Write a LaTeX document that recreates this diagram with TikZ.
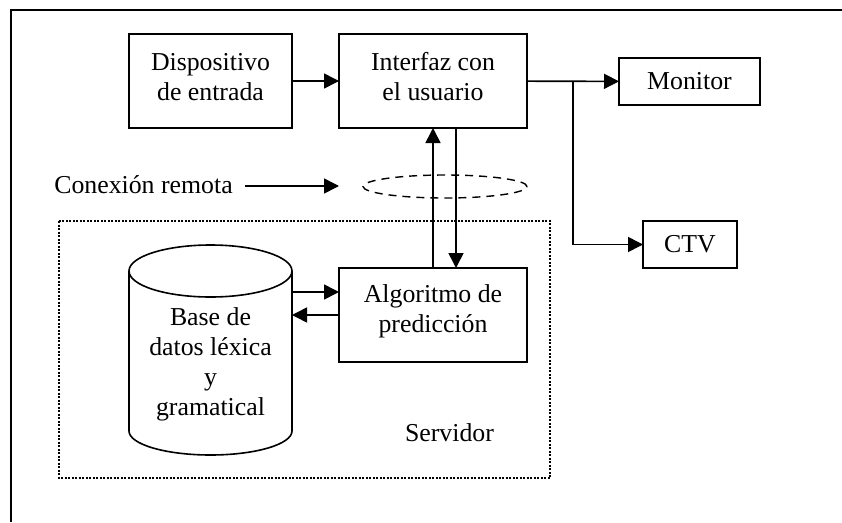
\documentclass[tikz,border=0pt]{standalone}
\usepackage{fontspec}
\setmainfont{Liberation Serif}
\usetikzlibrary{arrows.meta,shapes.geometric}
\tikzset{
  x=1pt,y=-1pt,
  lbl/.style={font=\fontsize{25.8}{30}\selectfont,align=center,inner sep=0pt,outer sep=0pt},
  blk/.style={lbl,draw,minimum width=#1,outer sep=0pt},
  upper/.style={label={[lbl,yshift=4pt]center:#1}},
  arr/.style={-{Triangle[length=15pt,width=15pt]}},
  frame/.style={line width=1.8pt},
  srv/.style={line width=2pt,dash pattern=on 2pt off 1.5pt},
  link/.style={line width=1.4pt,dash pattern=on 8pt off 6pt}
}
\begin{document}
\begin{tikzpicture}[line width=1.6pt]
\useasboundingbox (0,0) rectangle (842,522);
\draw[frame] (842,10) -- (11,10) -- (11,522);
\node[blk=163pt,minimum height=94pt,upper={Dispositivo\\de entrada}] (disp) at (210.5,81) {};
\node[blk=188pt,minimum height=94pt,upper={Interfaz con\\el usuario}] (ifz) at (433,81) {};
\node[blk=141pt,minimum height=47pt] (mon) at (689.5,81.5) {Monitor};
\node[blk=94pt,minimum height=47pt] (ctv) at (690,244.5) {CTV};
\node[blk=188pt,minimum height=94pt,upper={Algoritmo de\\predicción}] (alg) at (433,315) {};
\draw[srv] (59,221) rectangle (550,478);
\node[lbl] (srvl) at (449.5,433) {Servidor};
% cylinder
\node[minimum width=163pt,minimum height=210pt,inner sep=0pt,outer sep=0pt] (db) at (210.5,350) {};
\draw (db.west |- 0,271) arc[start angle=180,end angle=0,x radius=81.5,y radius=-26]
      -- (db.east |- 0,431) arc[start angle=0,end angle=-180,x radius=81.5,y radius=-24]
      -- cycle;
\draw (db.west |- 0,271) arc[start angle=180,end angle=360,x radius=81.5,y radius=-26];
\node[lbl] (dbl) at (210.5,364.5) {Base de\\datos léxica\\y\\gramatical};
% remote
\node[lbl] (rem) at (143.5,185) {Conexión remota};
\node[draw,link,ellipse,minimum width=164pt,minimum height=23pt,inner sep=0pt,outer sep=0pt] (net) at (445,186.5) {};
\coordinate (remstart) at (245,186);
\coordinate (remend) at (339,186);
\coordinate (upx) at (433,0);
\coordinate (dnx) at (456,0);
\coordinate (toA) at (0,292);
\coordinate (toB) at (0,315);
\coordinate (branch) at (573,81);
\draw[arr] (disp) -- (ifz);
\draw[arr] (ifz) -- (mon);
\draw[arr] (branch) |- (ctv);
\draw[arr] (remstart) -- (remend);
\draw[arr] (alg.north -| upx) -- (ifz.south -| upx);
\draw[arr] (ifz.south -| dnx) -- (alg.north -| dnx);
\draw[arr] (db.east |- toA) -- (alg.west |- toA);
\draw[arr] (alg.west |- toB) -- (db.east |- toB);
\end{tikzpicture}
\end{document}
